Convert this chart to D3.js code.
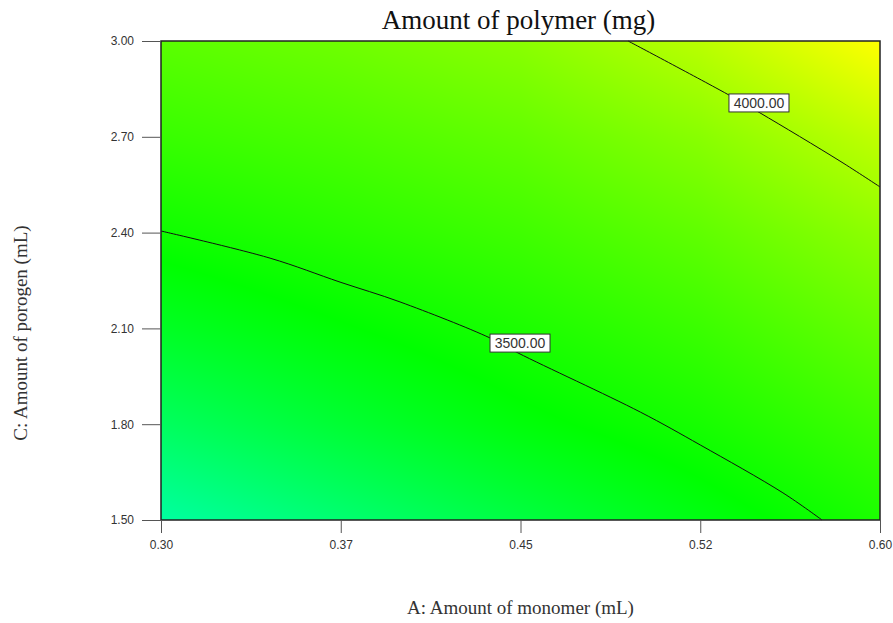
<!DOCTYPE html>
<meta charset="utf-8">
<head>
  <title>Amount of polymer contour</title>
</head>
<style>
  body { margin: 0; background: #fff; }
  .tick text { font: 12px "Liberation Sans", Arial, sans-serif; fill: #333; }
  .tick line { stroke: #555; }
  .title { font: 27px "Liberation Serif", "Times New Roman", serif; fill: #111; text-anchor: middle; }
  .axisLabel { font: 19px "Liberation Serif", "Times New Roman", serif; fill: #333; text-anchor: middle; }
  .contour { fill: none; stroke: #111; stroke-width: 1px; }
  .clabel rect { fill: #fff; stroke: #333; stroke-width: 1px; }
  .clabel text { font: 14px "Liberation Sans", Arial, sans-serif; fill: #333; text-anchor: middle; }
</style>
<body>
<script src="https://cdnjs.cloudflare.com/ajax/libs/d3/7.8.5/d3.min.js"></script>
<script>
var margin = {top: 41, right: 13, bottom: 103, left: 161},
    width = 893 - margin.left - margin.right,   // 719
    height = 623 - margin.top - margin.bottom;  // 479

// axis ticks and labels
var xTicks = [0.30, 0.375, 0.45, 0.525, 0.60];
var xTickLabels = ["0.30", "0.37", "0.45", "0.52", "0.60"];
var yTicks = [1.50, 1.80, 2.10, 2.40, 2.70, 3.00];
var yTickLabels = ["1.50", "1.80", "2.10", "2.40", "2.70", "3.00"];

// estimated response (mg) at grid nodes, rows = porogen, cols = monomer
var gridX = [0.30, 0.375, 0.45, 0.525, 0.60];
var gridY = [1.50, 1.80, 2.10, 2.40, 2.70, 3.00];
var gridValues = [
  [2950, 3097, 3245, 3392, 3540],
  [3155, 3290, 3420, 3525, 3660],
  [3337, 3440, 3540, 3645, 3790],
  [3498, 3580, 3660, 3770, 3925],
  [3635, 3700, 3780, 3905, 4090],
  [3750, 3820, 3910, 4070, 4300]
];

// contour lines
var contourLevels = ["3500.00", "4000.00"];
var contour3500 = [[0.300, 2.405], [0.3455, 2.320], [0.3747, 2.245], [0.3997, 2.183],
  [0.4373, 2.070], [0.449, 2.023], [0.500, 1.838], [0.525, 1.735], [0.5595, 1.585], [0.5758, 1.500]];
var contour4000 = [[0.4949, 3.000], [0.5362, 2.834], [0.5499, 2.775], [0.5833, 2.624], [0.600, 2.543]];
var labelPositions = [[0.4498, 2.054], [0.5495, 2.806]];

var xScale = d3.scaleLinear().domain([0.30, 0.60]).range([0, width]);
var yScale = d3.scaleLinear().domain([1.50, 3.00]).range([height, 0]);
var color = d3.scaleLinear()
    .domain([2950, 3450, 4300])
    .range(["#00ffa0", "#00ff00", "#ffff00"])
    .clamp(true);

var svg = d3.select("body").append("svg")
    .attr("width", width + margin.left + margin.right)
    .attr("height", height + margin.top + margin.bottom);

var g = svg.append("g")
    .attr("transform", "translate(" + margin.left + "," + margin.top + ")");

// bilinear lookup in the grid for the colour fill
function valueAt(x, y) {
  var i = Math.min(gridX.length - 2, Math.max(0, d3.bisectRight(gridX, x) - 1));
  var j = Math.min(gridY.length - 2, Math.max(0, d3.bisectRight(gridY, y) - 1));
  var tx = (x - gridX[i]) / (gridX[i + 1] - gridX[i]);
  var ty = (y - gridY[j]) / (gridY[j + 1] - gridY[j]);
  var a = gridValues[j][i], b = gridValues[j][i + 1],
      c = gridValues[j + 1][i], d = gridValues[j + 1][i + 1];
  return (a * (1 - tx) + b * tx) * (1 - ty) + (c * (1 - tx) + d * tx) * ty;
}

var canvas = document.createElement("canvas");
canvas.width = width;
canvas.height = height;
var ctx = canvas.getContext("2d");
var img = ctx.createImageData(width, height);
for (var py = 0; py < height; py++) {
  for (var px = 0; px < width; px++) {
    var c = d3.rgb(color(valueAt(xScale.invert(px + 0.5), yScale.invert(py + 0.5))));
    var k = (py * width + px) * 4;
    img.data[k] = c.r; img.data[k + 1] = c.g; img.data[k + 2] = c.b; img.data[k + 3] = 255;
  }
}
ctx.putImageData(img, 0, 0);

g.append("image")
    .attr("width", width)
    .attr("height", height)
    .attr("preserveAspectRatio", "none")
    .attr("href", canvas.toDataURL());

// contours
var line = d3.line()
    .x(function(d) { return xScale(d[0]); })
    .y(function(d) { return yScale(d[1]); })
    .curve(d3.curveCatmullRom);

[contour3500, contour4000].forEach(function(c) {
  g.append("path").attr("class", "contour").attr("d", line(c));
});

// frame
g.append("rect")
    .attr("width", width)
    .attr("height", height)
    .attr("fill", "none")
    .attr("stroke", "#222")
    .attr("stroke-width", 1.5);

// axes
var xAxis = d3.axisBottom(xScale)
    .tickValues(xTicks)
    .tickSize(13)
    .tickPadding(7)
    .tickFormat(function(d, i) { return xTickLabels[i]; });
var yAxis = d3.axisLeft(yScale)
    .tickValues(yTicks)
    .tickSize(19)
    .tickPadding(8)
    .tickFormat(function(d, i) { return yTickLabels[i]; });

g.append("g")
    .attr("transform", "translate(0," + height + ")")
    .call(xAxis)
    .call(function(s) { s.select(".domain").remove(); });
g.append("g")
    .call(yAxis)
    .call(function(s) { s.select(".domain").remove(); });

// contour labels
labelPositions.forEach(function(p, i) {
  var lg = g.append("g")
      .attr("class", "clabel")
      .attr("transform", "translate(" + xScale(p[0]) + "," + yScale(p[1]) + ")");
  lg.append("rect").attr("x", -30).attr("y", -9).attr("width", 60).attr("height", 18);
  lg.append("text").attr("y", 5).text(contourLevels[i]);
});

// titles
svg.append("text")
    .attr("class", "title")
    .attr("x", margin.left + width / 2 - 2)
    .attr("y", 29)
    .text("Amount of polymer (mg)");

svg.append("text")
    .attr("class", "axisLabel")
    .attr("x", margin.left + width / 2)
    .attr("y", 614)
    .text("A: Amount of monomer (mL)");

svg.append("text")
    .attr("class", "axisLabel")
    .attr("transform", "translate(27,333) rotate(-90)")
    .text("C: Amount of porogen (mL)");
</script>
</body>
